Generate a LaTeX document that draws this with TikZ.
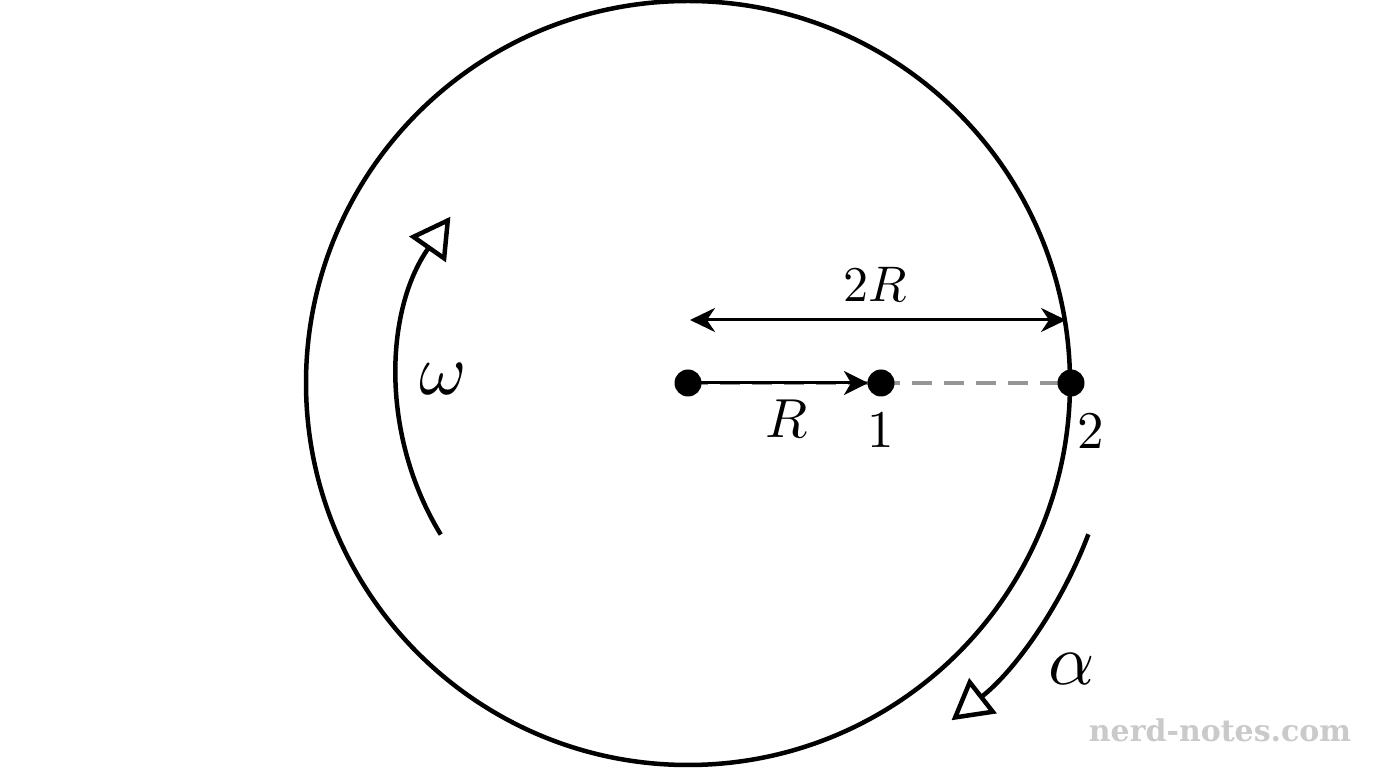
\documentclass[tikz,border=0pt]{standalone}
\usepackage{fontspec}
\usepackage{unicode-math}
\setmathfont{Latin Modern Math}
\newfontfamily\wmfont{DejaVu Serif}
\usetikzlibrary{arrows.meta}
\definecolor{dashgray}{RGB}{150,150,150}
\definecolor{wmgray}{RGB}{202,202,202}
\tikzset{
  thick line/.style={line width=4.5pt, black},
  dotnode/.style={circle, fill=black, inner sep=0pt, minimum size=27pt},
  lbl/.style={inner sep=0pt, text=black},
  opentip/.style={-{Triangle[open, length=40pt, width=44pt]}},
}
\begin{document}
\begin{tikzpicture}[x=1pt,y=1pt]
\useasboundingbox (0,0) rectangle (1376,768);
\fill[white] (0,0) rectangle (1376,768);
% points
\coordinate (c) at (688,385);
\coordinate (p1) at (881,385);
\coordinate (p2) at (1071,385);
\coordinate (dl) at (690,448);
\coordinate (dr) at (1066,448);
% big circle
\draw[thick line] (c) circle[radius=382];
% dashed line and radius arrow
\draw[dashgray, line width=4pt, dash pattern=on 20pt off 12pt] (c) -- (p2);
\draw[line width=3pt, -{Stealth[length=24pt, width=24pt, inset=7pt]}] (c) -- ([xshift=-13pt]p1);
% 2R double arrow
\draw[line width=3pt, {Stealth[length=25pt, width=24pt, inset=8pt]}-{Stealth[length=25pt, width=24pt, inset=8pt]}] (dl) -- (dr);
% dots
\node[dotnode] (n0) at (c) {};
\node[dotnode] (n1) at (p1) {};
\node[dotnode] (n2) at (p2) {};
% omega arc
\draw[thick line, opentip] ([shift={(211.5:290)}]c) arc[start angle=211.5, end angle=145, radius=290];
% alpha arc
\draw[thick line, opentip] ([shift={(-20.7:428)}]c) arc[start angle=-20.7, end angle=-52, radius=428];
% labels
\node[lbl, font=\fontsize{50}{60}\selectfont] (l2R) at (876,483) {$2R$};
\node[lbl, font=\fontsize{55}{66}\selectfont] (lR) at (787,349) {$R$};
\node[lbl, font=\fontsize{53}{64}\selectfont] (l1) at (881,338) {$1$};
\node[lbl, font=\fontsize{53}{64}\selectfont] (l2) at (1091,337) {$2$};
\node[lbl, font=\fontsize{72}{86}\selectfont] (lw) at (442,389) {$\omega$};
\node[lbl, font=\fontsize{72}{86}\selectfont] (la) at (1072,99) {$\alpha$};
% watermark
\node[inner sep=0pt, anchor=base, text=wmgray, font=\wmfont\bfseries\fontsize{30}{36}\selectfont] (wm) at (1220,26) {nerd-notes.com};
\end{tikzpicture}
\end{document}
